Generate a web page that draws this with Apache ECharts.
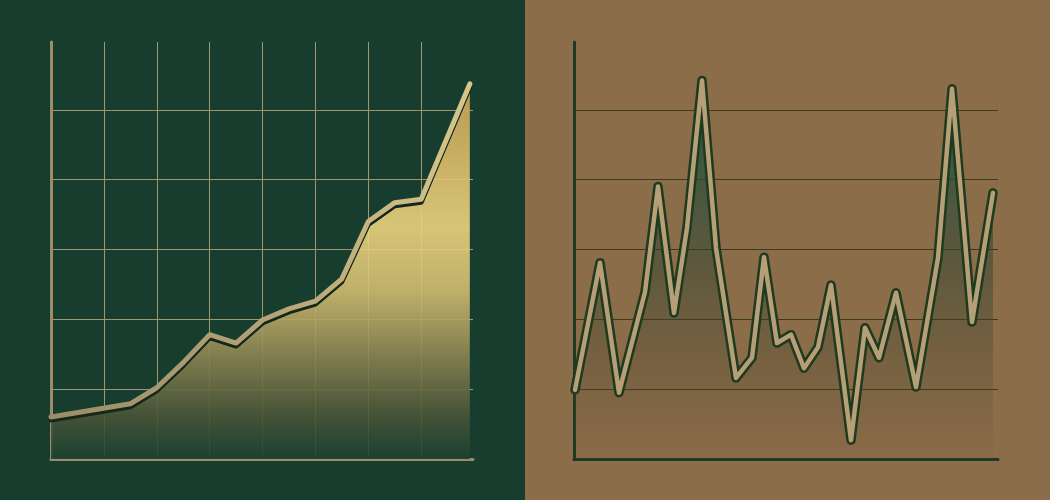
<!DOCTYPE html>
<html>
<head>
<meta charset="utf-8">
<script src="https://cdn.jsdelivr.net/npm/echarts@6/dist/echarts.min.js"></script>
<style>html,body{margin:0;padding:0;background:#173d2f;}#c{width:1050px;height:500px;}</style>
</head>
<body>
<div id="c"></div>
<script>
// Left panel: steadily rising series
const growthX = [0, 1.5, 2, 2.5, 3, 3.5, 4, 4.5, 5, 5.5, 6, 6.5, 7, 7.92];
const growthY = [0.6, 0.79, 1.02, 1.38, 1.78, 1.66, 1.99, 2.15, 2.26, 2.58, 3.4, 3.67, 3.72, 5.37];
// Right panel: volatile series
const volX = [0.1, 2.6, 4.5, 7.1, 8.4, 10.0, 11.3, 12.8, 14.2, 16.2, 17.8, 19.0, 20.3, 21.7, 23.0, 24.4, 25.7, 27.7, 29.1, 30.5, 32.2, 34.2, 36.4, 37.8, 39.8, 41.9];
const volY = [0.99, 2.81, 0.95, 2.39, 3.9, 2.09, 3.31, 5.42, 3.02, 1.16, 1.45, 2.89, 1.66, 1.78, 1.3, 1.6, 2.49, 0.27, 1.88, 1.45, 2.38, 1.03, 2.88, 5.3, 1.96, 3.81];

const growthData = growthX.map((x, i) => [x, growthY[i]]);
const volData = volX.map((x, i) => [x, volY[i]]);

const chart = echarts.init(document.getElementById('c'), null, {renderer: 'canvas'});
chart.setOption({
  animation: false,
  backgroundColor: '#8c6d4a',
  graphic: [
    {type: 'rect', z: -100, shape: {x: 0, y: 0, width: 525, height: 500}, style: {fill: '#173d2f'}}
  ],
  grid: [
    {left: 51, top: 42, width: 422, height: 417},
    {left: 574, top: 42, width: 424, height: 417}
  ],
  xAxis: [
    {gridIndex: 0, type: 'value', min: 0, max: 7.98, interval: 1,
      axisLine: {show: true, lineStyle: {color: '#9c8d68', width: 3}},
      axisTick: {show: false}, axisLabel: {show: false},
      splitLine: {show: true, showMaxLine: false, lineStyle: {color: '#a2966e', width: 1}}},
    {gridIndex: 1, type: 'value', min: 0, max: 42.4, interval: 10,
      axisLine: {show: true, lineStyle: {color: '#1f3a22', width: 3}},
      axisTick: {show: false}, axisLabel: {show: false},
      splitLine: {show: false}}
  ],
  yAxis: [
    {gridIndex: 0, type: 'value', min: 0, max: 5.97, interval: 1,
      axisLine: {show: true, lineStyle: {color: '#9c8d68', width: 3}},
      axisTick: {show: false}, axisLabel: {show: false},
      splitLine: {show: true, showMaxLine: false, lineStyle: {color: '#a2966e', width: 1}}},
    {gridIndex: 1, type: 'value', min: 0, max: 5.97, interval: 1,
      axisLine: {show: true, lineStyle: {color: '#1f3a22', width: 3}},
      axisTick: {show: false}, axisLabel: {show: false},
      splitLine: {show: true, showMaxLine: false, lineStyle: {color: '#3b3a20', width: 1}}}
  ],
  series: [
    {type: 'line', xAxisIndex: 0, yAxisIndex: 0, data: growthData, symbol: 'none', z: 3,
      lineStyle: {
        width: 5, cap: 'round', join: 'round',
        color: {type: 'linear', x: 0, y: 0, x2: 1, y2: 0, colorStops: [
          {offset: 0, color: '#9a8c68'}, {offset: 0.5, color: '#b3a275'}, {offset: 1, color: '#d6c68a'}]},
        shadowColor: '#15261a', shadowBlur: 0, shadowOffsetY: 3
      },
      areaStyle: {
        opacity: 0.9,
        color: {type: 'linear', x: 0, y: 0, x2: 0, y2: 1, colorStops: [
          {offset: 0, color: '#c9a358'},
          {offset: 0.2, color: '#dcbc6a'},
          {offset: 0.38, color: '#ecd47f'},
          {offset: 0.55, color: '#d2bd70'},
          {offset: 0.72, color: '#8e8653'},
          {offset: 0.88, color: '#4b5638'},
          {offset: 1, color: '#1b4131'}]}
      }
    },
    {type: 'line', xAxisIndex: 1, yAxisIndex: 1, data: volData, symbol: 'none', z: 3,
      lineStyle: {width: 9.5, color: '#1f3a1f', join: 'round', cap: 'round'},
      areaStyle: {
        opacity: 1,
        color: {type: 'linear', x: 0, y: 0, x2: 0, y2: 1, colorStops: [
          {offset: 0, color: 'rgba(20,88,70,0.95)'},
          {offset: 0.25, color: 'rgba(35,80,60,0.7)'},
          {offset: 0.5, color: 'rgba(50,68,48,0.5)'},
          {offset: 0.75, color: 'rgba(70,70,45,0.3)'},
          {offset: 1, color: 'rgba(90,70,45,0.05)'}]}
      }
    },
    {type: 'line', xAxisIndex: 1, yAxisIndex: 1, data: volData, symbol: 'none', z: 4,
      lineStyle: {width: 4.5, color: '#b69e76', join: 'round', cap: 'round'}
    }
  ]
});
</script>
</body>
</html>
